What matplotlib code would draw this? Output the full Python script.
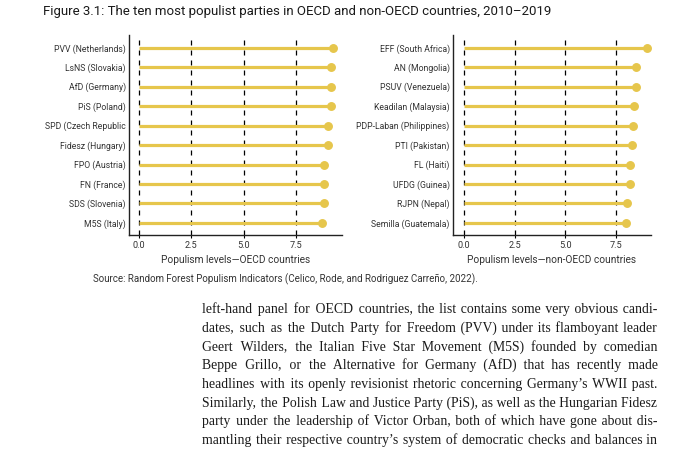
import numpy as np
import matplotlib.pyplot as plt

# data
oecd_parties = ["PVV (Netherlands)", "LsNS (Slovakia)", "AfD (Germany)", "PiS (Poland)",
                "SPD (Czech Republic", "Fidesz (Hungary)", "FPO (Austria)", "FN (France)",
                "SDS (Slovenia)", "M5S (Italy)"]
oecd_scores = [9.24, 9.14, 9.14, 9.14, 8.98, 9.0, 8.83, 8.83, 8.83, 8.7]

non_oecd_parties = ["EFF (South Africa)", "AN (Mongolia)", "PSUV (Venezuela)",
                    "Keadilan (Malaysia)", "PDP-Laban (Philippines)", "PTI (Pakistan)",
                    "FL (Haiti)", "UFDG (Guinea)", "RJPN (Nepal)", "Semilla (Guatemala)"]
non_oecd_scores = [9.0, 8.49, 8.47, 8.36, 8.32, 8.29, 8.21, 8.21, 8.04, 7.99]

xticks = [0.0, 2.5, 5.0, 7.5]

title = "Figure 3.1: The ten most populist parties in OECD and non-OECD countries, 2010\u20132019"
source = "Source: Random Forest Populism Indicators (Celico, Rode, and Rodriguez Carre\u00f1o, 2022)."
body_lines = [
    "left-hand panel for OECD countries, the list contains some very obvious candi-",
    "dates, such as the Dutch Party for Freedom (PVV) under its flamboyant leader",
    "Geert Wilders, the Italian Five Star Movement (M5S) founded by comedian",
    "Beppe Grillo, or the Alternative for Germany (AfD) that has recently made",
    "headlines with its openly revisionist rhetoric concerning Germany\u2019s WWII past.",
    "Similarly, the Polish Law and Justice Party (PiS), as well as the Hungarian Fidesz",
    "party under the leadership of Victor Orban, both of which have gone about dis-",
    "mantling their respective country\u2019s system of democratic checks and balances in",
]

sans = ['Roboto', 'DejaVu Sans']
yellow = '#E6C64C'
txt = '#333333'

W, H = 691, 453
fig = plt.figure(figsize=(W/100, H/100), dpi=100)

def panel(rect, names, vals, xlim, xlab):
    ax = fig.add_axes(rect)
    y = np.arange(len(names))
    for xv in xticks:
        ax.axvline(xv, color='black', linestyle=(0, (4, 4)), linewidth=0.9, zorder=1)
    ax.hlines(y, 0, vals, color=yellow, linewidth=2.3, zorder=2)
    ax.plot(vals, y, 'o', color=yellow, markersize=5.4, zorder=3)
    ax.set_yticks(y)
    ax.set_yticklabels(names, fontsize=6.2, family=sans, color=txt)
    ax.set_xticks(xticks)
    ax.set_xticklabels(["%.1f" % t for t in xticks], fontsize=6.6, family=sans, color=txt)
    ax.set_xlim(xlim)
    ax.set_ylim(len(names) - 0.38, -0.65)
    ax.tick_params(axis='y', length=0, pad=2.4)
    ax.tick_params(axis='x', length=2, width=0.8, pad=2)
    for s in ['top', 'right']:
        ax.spines[s].set_visible(False)
    for s in ['left', 'bottom']:
        ax.spines[s].set_linewidth(1.0)
        ax.spines[s].set_color('#222222')
    ax.set_xlabel(xlab, fontsize=7.3, family=sans, color=txt, labelpad=4)
    return ax

panel([129/W, 1-235/H, 213/W, 200/H], oecd_parties, oecd_scores, (-0.47, 9.67),
      "Populism levels\u2014OECD countries")
panel([453/W, 1-235/H, 198/W, 200/H], non_oecd_parties, non_oecd_scores, (-0.53, 9.22),
      "Populism levels\u2014non-OECD countries")

fig.text(43/W, 1-11/H, title, fontsize=9.5, family=sans,
         color='#1a1a1a', va='center', ha='left')
fig.text(93/W, 1-279/H, source, fontsize=7.0, family=sans, color=txt,
         va='center', ha='left')

# justified body text: widen the word gaps with hair spaces
renderer = fig.canvas.get_renderer()
x0, x1 = 202, 657
serif = ['Liberation Serif', 'DejaVu Serif']
hs = '\u200a'

def width(s, size):
    t = fig.text(0, 0, s, fontsize=size, family=serif)
    w = t.get_window_extent(renderer).width
    t.remove()
    return w

size = 10
size = size * (x1 - x0) / max(width(l, size) for l in body_lines) * 0.995
hw = (width('a' + hs*40 + 'a', size) - width('aa', size)) / 40

for i, line in enumerate(body_lines):
    words = line.split(' ')
    n = len(words) - 1
    extra = (x1 - x0) - width(line, size)
    total = max(int(round(extra / hw)), 0)
    counts = [total // n + (1 if k < total % n else 0) for k in range(n)]
    s = words[0]
    for k in range(n):
        s += ' ' + hs*counts[k] + words[k+1]
    fig.text(x0/W, 1 - (313 + i*18.7)/H, s, fontsize=size, family=serif,
             color='#1a1a1a', va='baseline', ha='left')

fig.savefig("out.png", dpi=100)
